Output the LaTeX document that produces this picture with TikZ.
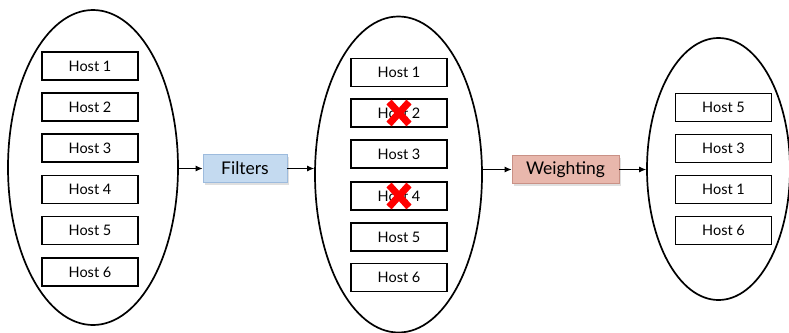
\documentclass[tikz,border=0pt]{standalone}
\usepackage{fontspec}
\setmainfont{Lato}
\usetikzlibrary{shapes.geometric,arrows.meta,shadows}
\definecolor{filterfill}{HTML}{C4DAF0}
\definecolor{filterdraw}{HTML}{9DBBDD}
\definecolor{weightfill}{HTML}{E8B7AC}
\definecolor{weightdraw}{HTML}{C99186}
\tikzset{
  pool/.style={draw, ellipse, line width=1.7pt, inner sep=0pt},
  hostbox/.style={draw, line width=1.5pt, minimum width=96pt, minimum height=28pt,
    inner sep=0pt, font=\fontsize{14.5}{16}\selectfont, text=black},
  stagebox/.style={draw, line width=0.8pt, minimum height=28pt, inner sep=0pt,
    font=\fontsize{17.5}{19}\selectfont, drop shadow={shadow xshift=1.5pt, shadow yshift=-2pt, opacity=0.25}},
  flow/.style={line width=1pt, -{Latex[length=7pt,width=6pt]}},
  cross/.style={red, line width=7pt}
}
\begin{document}
\begin{tikzpicture}[x=1pt,y=-1pt]
\useasboundingbox (0,0) rectangle (789,332);
% host pools
\node[pool, minimum width=170pt, minimum height=315pt] (poolA) at (93,167.5) {};
\node[pool, minimum width=167pt, minimum height=316pt] (poolB) at (398.5,174.5) {};
\node[pool, minimum width=143pt, minimum height=262pt] (poolC) at (718.5,169) {};
% all hosts
\foreach \n/\y in {1/66,2/107,3/148,4/189.5,5/230.5,6/272}
  \node[hostbox] (a\n) at (90,\y) {Host \n};
% hosts after filtering
\foreach \n/\y in {1/72.5,2/113,3/154,4/196,5/237,6/277.5}
  \node[hostbox] (b\n) at (399,\y) {Host \n};
% hosts after weighting
\foreach \n/\m/\y in {1/5/107.5,2/3/148.5,3/1/189.5,4/6/230.5}
  \node[hostbox] (c\n) at (723.5,\y) {Host \m};
% stages
\node[stagebox, fill=filterfill, draw=filterdraw, minimum width=84pt] (filters) at (245,168.5) {Filters};
\node[stagebox, fill=weightfill, draw=weightdraw, minimum width=107pt] (weighting) at (565.5,169.5) {Weighting};
% connectors
\draw[flow] (poolA.east |- filters.west) -- (filters.west);
\draw[flow] (filters.east) -- (filters.east -| poolB.west);
\draw[flow] (poolB.east |- weighting.west) -- (weighting.west);
\draw[flow] (weighting.east) -- (weighting.east -| poolC.west);
% rejected hosts
\foreach \h in {b2,b4}{
  \draw[cross] ([shift={(-10,-11)}]\h.center) -- ([shift={(10,11)}]\h.center);
  \draw[cross] ([shift={(10,-11)}]\h.center) -- ([shift={(-10,11)}]\h.center);
}
\end{tikzpicture}
\end{document}
